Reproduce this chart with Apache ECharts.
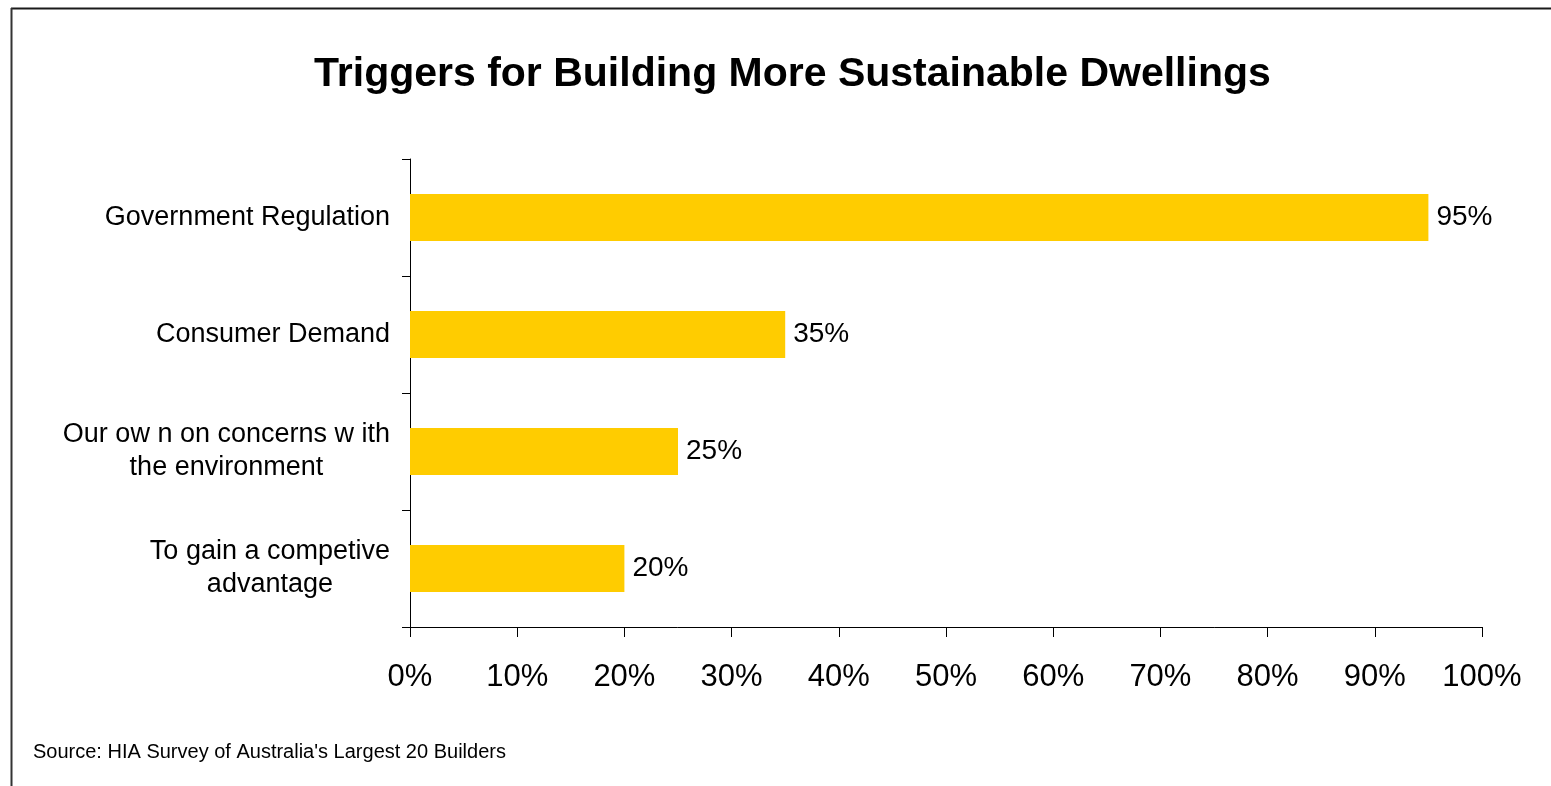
<!DOCTYPE html>
<html>
<head>
<meta charset="utf-8">
<title>Triggers for Building More Sustainable Dwellings</title>
<script src="https://cdn.jsdelivr.net/npm/echarts@6/dist/echarts.min.js"></script>
<style>
  html, body { margin: 0; padding: 0; background: #fff; }
  #chart { width: 1551px; height: 786px; }
</style>
</head>
<body>
<div id="chart"></div>
<script>
// Survey responses, top to bottom
const categories = [
  'Government Regulation',
  'Consumer Demand',
  'Our ow n on concerns w ith\nthe environment',
  'To gain a competive\nadvantage'
];
const shares = [95, 35, 25, 20];
const titleText = 'Triggers for Building More Sustainable Dwellings';
const sourceText = "Source: HIA Survey of Australia's Largest 20 Builders";

const FONT = 'Liberation Sans, Arial, Helvetica, sans-serif';
const chart = echarts.init(document.getElementById('chart'));

chart.setOption({
  backgroundColor: '#ffffff',
  animation: false,
  textStyle: { fontFamily: FONT, color: '#000' },
  title: {
    text: titleText,
    left: 309,
    top: 49,
    textStyle: { fontFamily: FONT, fontSize: 41, fontWeight: 'bold', color: '#000' }
  },
  graphic: [
    // outer frame (top and left edges)
    { type: 'line', shape: { x1: 11, y1: 8.5, x2: 1551, y2: 8.5 }, style: { stroke: '#1a1a1a', lineWidth: 2 } },
    { type: 'line', shape: { x1: 11.5, y1: 8, x2: 11.5, y2: 786 }, style: { stroke: '#333', lineWidth: 2 } },
    {
      type: 'text', left: 33, top: 742,
      style: { text: sourceText, fontFamily: FONT, fontSize: 20, fill: '#000' }
    }
  ],
  grid: { left: 410, right: 69, top: 159, bottom: 159, containLabel: false },
  xAxis: {
    type: 'value',
    min: 0, max: 100, interval: 10,
    axisLine: { show: true, lineStyle: { color: '#000', width: 1 } },
    axisTick: { show: true, length: 10, lineStyle: { color: '#000' } },
    splitLine: { show: false },
    axisLabel: {
      formatter: '{value}%',
      fontFamily: FONT, fontSize: 31, color: '#000',
      margin: 35
    }
  },
  yAxis: {
    type: 'category',
    data: categories,
    inverse: true,
    axisLine: { show: true, lineStyle: { color: '#000', width: 1 } },
    axisTick: { show: true, length: 8, inside: false, lineStyle: { color: '#000' } },
    axisLabel: {
      fontFamily: FONT, fontSize: 27, color: '#000',
      margin: 20, align: 'right', lineHeight: 33,
      // each line is centred within the right-aligned label block
      formatter: function (v) {
        return v.split('\n').map(function (l) { return '{c|' + l + '}'; }).join('\n');
      },
      rich: {
        c: { align: 'center', fontFamily: FONT, fontSize: 27, lineHeight: 33, color: '#000' }
      }
    }
  },
  series: [{
    type: 'bar',
    data: shares,
    barWidth: 47,
    itemStyle: { color: '#FFCC00' },
    label: {
      show: true,
      position: 'right',
      distance: 8,
      formatter: '{c}%',
      fontFamily: FONT, fontSize: 28, color: '#000'
    }
  }]
});
</script>
</body>
</html>
